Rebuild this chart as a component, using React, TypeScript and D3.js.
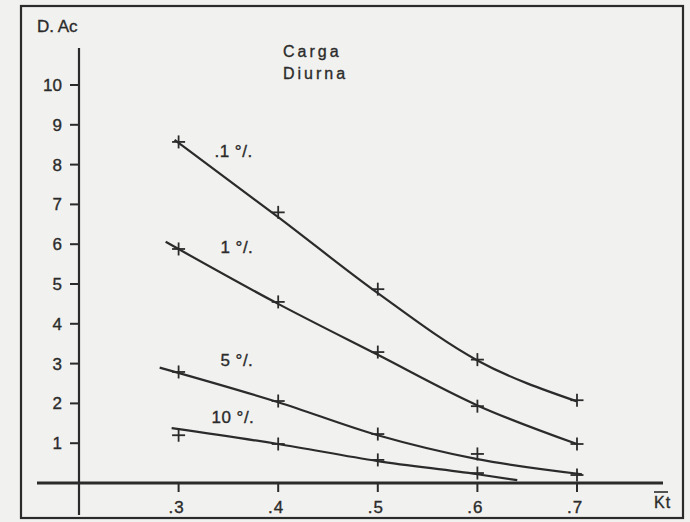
import React from "react";
import * as d3 from "d3";

// ---- data ----
const xTicks = [0.3, 0.4, 0.5, 0.6, 0.7];
const xTickLabels = [".3", ".4", ".5", ".6", ".7"];
const yTicks = [1, 2, 3, 4, 5, 6, 7, 8, 9, 10];

const seriesNames = [".1 °/.", "1 °/.", "5 °/.", "10 °/."];

// fitted curves (x = Kt, y = D.Ac)
const curve01 = [[0.296, 8.62], [0.4, 6.68], [0.5, 4.77], [0.6, 3.08], [0.7, 2.05]];
const curve1 = [[0.287, 6.06], [0.4, 4.5], [0.5, 3.22], [0.6, 1.95], [0.7, 0.98]];
const curve5 = [[0.281, 2.9], [0.4, 2.03], [0.5, 1.2], [0.6, 0.6], [0.705, 0.22]];
const curve10 = [[0.293, 1.38], [0.4, 0.98], [0.5, 0.55], [0.6, 0.22], [0.64, 0.07]];

// plotted "+" points
const pts01 = [[0.3, 8.57], [0.4, 6.8], [0.5, 4.87], [0.6, 3.1], [0.7, 2.08]];
const pts1 = [[0.3, 5.88], [0.4, 4.55], [0.5, 3.29], [0.6, 1.93], [0.7, 0.98]];
const pts5 = [[0.3, 2.79], [0.4, 2.06], [0.5, 1.23], [0.6, 0.73], [0.7, 0.2]];
const pts10 = [[0.3, 1.2], [0.4, 0.98], [0.5, 0.58], [0.6, 0.25]];

// label anchor positions in data units
const labelPos = [[0.336, 8.18], [0.342, 5.78], [0.342, 2.95], [0.333, 1.52]];

const W = 690;
const H = 522;
const ink = "#2b2b2b";
const font = "'Liberation Sans', Arial, sans-serif";
const textStroke = { stroke: ink, strokeWidth: 0.35 };

export default function App() {
  const x = d3.scaleLinear().domain([0.2, 0.7]).range([79, 577]);
  const y = d3.scaleLinear().domain([0, 10]).range([483, 85]);
  const line = d3
    .line<number[]>()
    .x((d) => x(d[0]))
    .y((d) => y(d[1]))
    .curve(d3.curveMonotoneX);

  const curves = [curve01, curve1, curve5, curve10];
  const points = [pts01, pts1, pts5, pts10];
  const arm = 6.5;

  return (
    <svg
      width={W}
      height={H}
      style={{ position: "absolute", left: 0, top: 0, background: "#f1f1ef" }}
    >
      <rect x={0} y={0} width={W} height={H} fill="#f1f1ef" />
      {/* frame */}
      <rect x={21} y={6} width={662} height={512} fill="none" stroke={ink} strokeWidth={2.2} />

      {/* y axis */}
      <line x1={x(0.2)} x2={x(0.2)} y1={48} y2={515} stroke={ink} strokeWidth={2.2} />
      {yTicks.map((t) => (
        <g key={t}>
          <line x1={x(0.2) - 9} x2={x(0.2)} y1={y(t)} y2={y(t)} stroke={ink} strokeWidth={2} />
          <text
            x={62}
            y={y(t) + 6}
            textAnchor="end"
            fontFamily={font}
            fontSize={17}
            fill={ink}
            {...textStroke}
          >
            {t}
          </text>
        </g>
      ))}
      <text x={37} y={32} fontFamily={font} fontSize={17} fill={ink} {...textStroke}>
        D. Ac
      </text>

      {/* x axis */}
      <line x1={37} x2={663} y1={y(0)} y2={y(0)} stroke={ink} strokeWidth={2.8} />
      {xTicks.map((t, i) => (
        <g key={t}>
          <line x1={x(t)} x2={x(t)} y1={y(0)} y2={y(0) + 9} stroke={ink} strokeWidth={2} />
          <text
            x={x(t) - 2}
            y={513}
            textAnchor="middle"
            fontFamily={font}
            fontSize={17}
            fill={ink}
            letterSpacing={1}
            {...textStroke}
          >
            {xTickLabels[i]}
          </text>
        </g>
      ))}
      <text x={654} y={508} fontFamily={font} fontSize={16} fill={ink} letterSpacing={1} {...textStroke}>
        Kt
      </text>
      <line x1={654} x2={668} y1={492} y2={492} stroke={ink} strokeWidth={1.6} />

      {/* title */}
      <text x={283} y={57} fontFamily={font} fontSize={16} fill={ink} letterSpacing={3} {...textStroke}>
        Carga
      </text>
      <text x={283} y={79} fontFamily={font} fontSize={16} fill={ink} letterSpacing={3} {...textStroke}>
        Diurna
      </text>

      {/* curves */}
      {curves.map((c, i) => (
        <path key={i} d={line(c) || ""} fill="none" stroke={ink} strokeWidth={2.2} />
      ))}
      {points.map((p, i) =>
        p.map((d, j) => (
          <g key={`${i}-${j}`}>
            <line
              x1={x(d[0]) - arm}
              x2={x(d[0]) + arm}
              y1={y(d[1])}
              y2={y(d[1])}
              stroke={ink}
              strokeWidth={1.8}
            />
            <line
              x1={x(d[0])}
              x2={x(d[0])}
              y1={y(d[1]) - arm}
              y2={y(d[1]) + arm}
              stroke={ink}
              strokeWidth={1.8}
            />
          </g>
        ))
      )}

      {/* curve labels */}
      {seriesNames.map((n, i) => (
        <text
          key={n}
          x={x(labelPos[i][0])}
          y={y(labelPos[i][1])}
          fontFamily={font}
          fontSize={17}
          fill={ink}
          letterSpacing={0.5}
          {...textStroke}
        >
          {n}
        </text>
      ))}
    </svg>
  );
}
